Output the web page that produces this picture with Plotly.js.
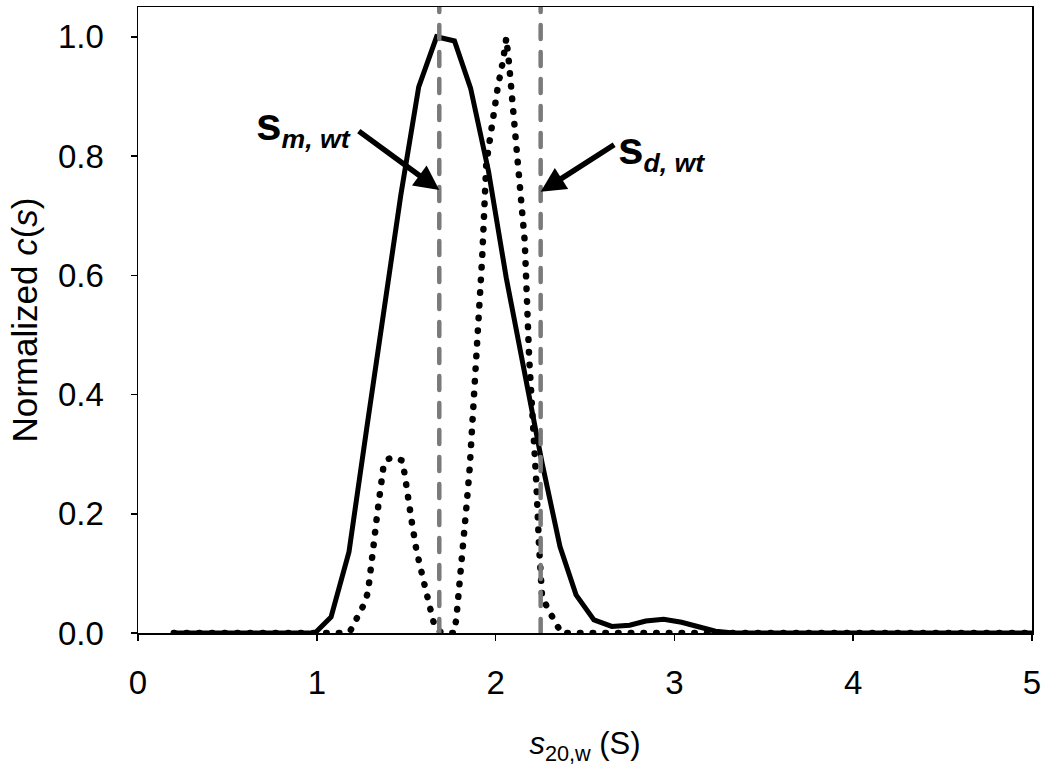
<!DOCTYPE html>
<html>
<head>
<meta charset="utf-8">
<script src="https://cdn.plot.ly/plotly-3.0.1.min.js"></script>
<style>
  html, body { margin: 0; padding: 0; background: #fff; }
  #chart { width: 1050px; height: 777px; }
  .js-line { stroke-linecap: round !important; }
</style>
</head>
<body>
<div id="chart"></div>
<script>
// Solid curve
const solidS = [0.20,0.30,0.40,0.49,0.59,0.69,0.79,0.89,0.99,1.08,1.18,1.28,1.38,1.47,1.57,1.67,1.77,1.86,1.96,2.06,2.16,2.26,2.36,2.45,2.55,2.65,2.75,2.84,2.94,3.04,3.14,3.23,3.33,3.50,3.75,4.00,4.25,4.50,4.75,5.00];
const solidC = [0,0,0,0,0,0,0,0,0,0.027,0.136,0.345,0.55,0.735,0.916,1.0,0.993,0.914,0.775,0.595,0.44,0.285,0.145,0.064,0.022,0.011,0.013,0.020,0.023,0.018,0.010,0.003,0,0,0,0,0,0,0,0];

// Dotted curve
const dottedS = [0.20,0.50,0.80,1.00,1.15,1.19,1.225,1.262,1.286,1.299,1.32,1.336,1.351,1.364,1.374,1.40,1.426,1.455,1.478,1.491,1.51,1.534,1.557,1.585,1.607,1.641,1.659,1.69,1.706,1.767,1.78,1.799,1.814,1.837,1.855,1.868,1.883,1.898,1.925,1.948,1.977,2.013,2.041,2.06,2.075,2.088,2.107,2.131,2.163,2.187,2.209,2.228,2.243,2.26,2.293,2.331,2.368,2.60,3.00,3.50,4.00,4.50,5.00];
const dottedC = [0,0,0,0,0,0.005,0.026,0.047,0.068,0.111,0.153,0.195,0.238,0.26,0.282,0.292,0.294,0.292,0.289,0.267,0.224,0.181,0.139,0.096,0.075,0.033,0.011,0.002,0,0,0.023,0.086,0.15,0.212,0.276,0.341,0.405,0.468,0.63,0.788,0.852,0.917,0.959,0.998,0.956,0.911,0.827,0.74,0.657,0.466,0.363,0.251,0.145,0.061,0.040,0.017,0,0,0,0,0,0,0];

// Vertical reference lines (s_m,wt and s_d,wt)
const refS = [1.685, 2.252];
const refLabels = [
  '<span style="font-size:46px"><b>s</b></span><sub><b><i>m, wt</i></b></sub>',
  '<span style="font-size:46px"><b>s</b></span><sub><b><i>d, wt</i></b></sub>'
];
const yTop = 1.05;

const traces = [
  {x: solidS, y: solidC, type: 'scatter', mode: 'lines', line: {color: '#000', width: 5}, hoverinfo: 'skip'},
  {x: dottedS, y: dottedC, type: 'scatter', mode: 'lines', line: {color: '#000', width: 6.5, dash: '0.5px,12.2px'}, hoverinfo: 'skip'}
];
refS.forEach(s => traces.push({x: [s, s], y: [0, yTop], type: 'scatter', mode: 'lines', line: {color: '#7a7a7a', width: 4.5, dash: '14px,13px'}, hoverinfo: 'skip'}));

const font = 'Liberation Sans, Arial, sans-serif';
const layout = {
  width: 1050, height: 777,
  margin: {l: 138, r: 18, t: 7, b: 144},
  paper_bgcolor: '#fff', plot_bgcolor: '#fff',
  showlegend: false,
  font: {family: font, color: '#000', size: 32},
  xaxis: {
    range: [0, 5], dtick: 1, tick0: 0,
    showgrid: false, zeroline: false,
    showline: true, mirror: true, linecolor: '#000', linewidth: 1.5,
    ticks: 'outside', ticklen: 6, tickwidth: 1.5, tickcolor: '#000',
    ticklabelstandoff: 14,
    tickfont: {family: font, size: 33, color: '#000'},
    title: {text: '<i>s</i><sub>20,w</sub> (S)', font: {family: font, size: 31, color: '#000'}, standoff: 32}
  },
  yaxis: {
    range: [0, yTop], dtick: 0.2, tick0: 0, tickformat: '.1f',
    showgrid: false, zeroline: false,
    showline: true, mirror: true, linecolor: '#000', linewidth: 1.5,
    ticks: 'outside', ticklen: 6, tickwidth: 1.5, tickcolor: '#000',
    ticklabelstandoff: 20,
    tickfont: {family: font, size: 33, color: '#000'},
    title: {text: 'Normalized <i>c</i>(<i>s</i>)', font: {family: font, size: 35, color: '#000'}, standoff: 10}
  },
  annotations: [
    {x: refS[0], y: 0.743, xref: 'x', yref: 'y', ax: -82, ay: -60, text: '', showarrow: true,
     arrowhead: 2, arrowsize: 0.9, arrowwidth: 5.5, arrowcolor: '#000', standoff: 0},
    {x: refS[1], y: 0.74, xref: 'x', yref: 'y', ax: 75, ay: -48, text: '', showarrow: true,
     arrowhead: 2, arrowsize: 0.9, arrowwidth: 5.5, arrowcolor: '#000', standoff: 0},
    {x: 1.2, y: 0.85, xref: 'x', yref: 'y', xanchor: 'right', yanchor: 'middle', showarrow: false,
     text: refLabels[0], font: {family: font, size: 38, color: '#000'}},
    {x: 2.675, y: 0.81, xref: 'x', yref: 'y', xanchor: 'left', yanchor: 'middle', showarrow: false,
     text: refLabels[1], font: {family: font, size: 38, color: '#000'}}
  ]
};

Plotly.newPlot('chart', traces, layout, {staticPlot: true, displayModeBar: false});
</script>
</body>
</html>
